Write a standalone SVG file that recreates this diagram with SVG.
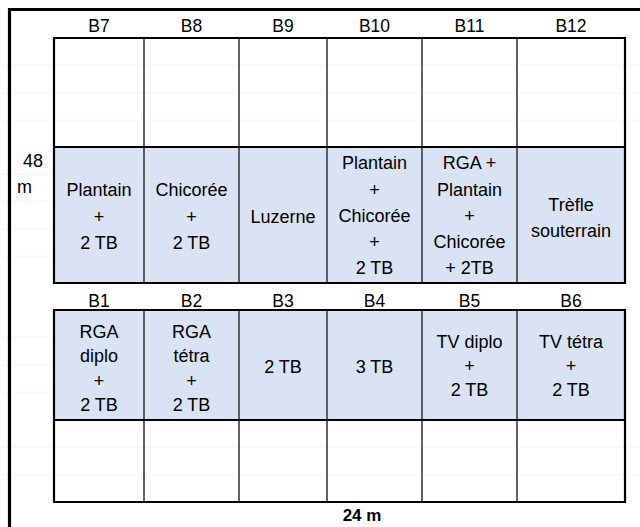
<svg xmlns="http://www.w3.org/2000/svg" width="640" height="527" viewBox="0 0 640 527">
<style>
path{fill:none}
text{font-family:"Liberation Sans",Arial,sans-serif;font-size:18px;fill:#000;text-anchor:middle}
.hdr{font-size:17.5px}
.band{fill:#dae3f3}
.faint{stroke:#f2f2f2;stroke-width:1}
.vline{stroke:#3c3c3c;stroke-width:1.6}
.hline{stroke:#000;stroke-width:2.2}
.frame{stroke:#000;stroke-width:3.2}
.bold{font-weight:bold}
</style>
<rect width="640" height="527" fill="#fff"/>
<g id="faint-grid">
<path class="faint" d="M0 65H640M0 93H640M0 120H640M0 447H640M0 475H640M0 174H54M0 201H54M0 229H54M0 256H54M0 337H54M0 365H54M0 392H54"/>
</g>
<g id="bands">
<rect class="band" x="54" y="147" width="571" height="136"/>
<rect class="band" x="54" y="310" width="571" height="110"/>
</g>
<g id="grid">
<path class="vline" d="M144 38V283M239 38V283M327 38V283M422 38V283M517 38V283M144 310V502M239 310V502M327 310V502M422 310V502M517 310V502"/>
<path class="hline" d="M54 38V283M625 38V283M54 310V502M625 310V502"/>
<path class="hline" d="M53 38H626M53 147H626M53 283H626M53 310H626M53 420H626M53 502H626"/>
</g>
<g id="frame">
<path class="frame" d="M9.5 527V9.5H640"/>
</g>
<g id="headers">
<text class="hdr" x="99" y="32">B7</text>
<text class="hdr" x="191.5" y="32">B8</text>
<text class="hdr" x="283" y="32">B9</text>
<text class="hdr" x="374.5" y="32">B10</text>
<text class="hdr" x="469.5" y="32">B11</text>
<text class="hdr" x="571" y="32">B12</text>
<text class="hdr" x="99" y="307">B1</text>
<text class="hdr" x="191.5" y="307">B2</text>
<text class="hdr" x="283" y="307">B3</text>
<text class="hdr" x="374.5" y="307">B4</text>
<text class="hdr" x="469.5" y="307">B5</text>
<text class="hdr" x="571" y="307">B6</text>
</g>
<g id="B7"><text x="99" y="196">Plantain</text><text x="99" y="222.5">+</text><text x="99" y="249">2 TB</text></g>
<g id="B8"><text x="191.5" y="196">Chicorée</text><text x="191.5" y="222.5">+</text><text x="191.5" y="249">2 TB</text></g>
<g id="B9"><text x="283" y="223">Luzerne</text></g>
<g id="B10"><text x="374.5" y="169">Plantain</text><text x="374.5" y="195.5">+</text><text x="374.5" y="222">Chicorée</text><text x="374.5" y="248">+</text><text x="374.5" y="274">2 TB</text></g>
<g id="B11"><text x="469.5" y="169">RGA +</text><text x="469.5" y="195.5">Plantain</text><text x="469.5" y="222">+</text><text x="469.5" y="248">Chicorée</text><text x="469.5" y="274">+ 2TB</text></g>
<g id="B12"><text x="571" y="211">Trèfle</text><text x="571" y="237">souterrain</text></g>
<g id="B1"><text x="99" y="338">RGA</text><text x="99" y="362">diplo</text><text x="99" y="387">+</text><text x="99" y="411">2 TB</text></g>
<g id="B2"><text x="191.5" y="338">RGA</text><text x="191.5" y="362">tétra</text><text x="191.5" y="387">+</text><text x="191.5" y="411">2 TB</text></g>
<g id="B3"><text x="283" y="373">2 TB</text></g>
<g id="B4"><text x="374.5" y="373">3 TB</text></g>
<g id="B5"><text x="469.5" y="348">TV diplo</text><text x="469.5" y="372">+</text><text x="469.5" y="396">2 TB</text></g>
<g id="B6"><text x="571" y="348">TV tétra</text><text x="571" y="372">+</text><text x="571" y="396">2 TB</text></g>
<g id="dimensions">
<text x="23" y="167" style="text-anchor:start">48</text>
<text x="17" y="193" style="text-anchor:start">m</text>
<text class="bold" x="362" y="521" style="font-size:17px">24 m</text>
</g>
</svg>
